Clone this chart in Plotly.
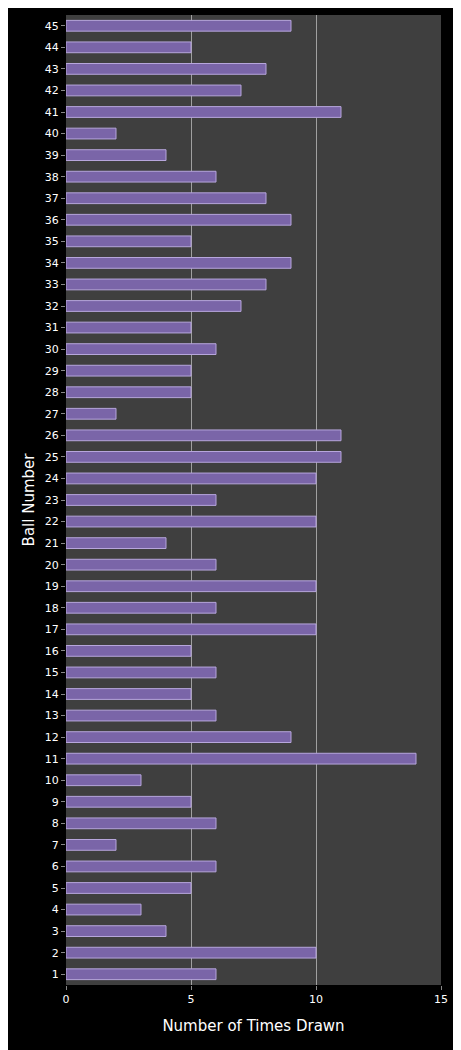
import plotly.graph_objects as go

balls = [str(i) for i in range(1, 46)]
times_drawn = [6, 10, 4, 3, 5, 6, 2, 6, 5, 3,
               14, 9, 6, 5, 6, 5, 10, 6, 10, 6,
               4, 10, 6, 10, 11, 11, 2, 5, 5, 6,
               5, 7, 8, 9, 5, 9, 8, 6, 4, 2,
               11, 7, 8, 5, 9]

fig = go.Figure(go.Bar(
    x=times_drawn, y=balls, orientation="h",
    marker=dict(color="#7a65a8", line=dict(color="#b7a6dc", width=1)),
))

fig.update_layout(
    width=461, height=1050,
    margin=dict(l=58, r=28, t=7, b=73),
    paper_bgcolor="black", plot_bgcolor="#3f3f3f",
    bargap=0.5, showlegend=False,
    font=dict(family="DejaVu Sans", color="white", size=11),
)
fig.update_xaxes(range=[0, 15], dtick=5, showgrid=True, gridcolor="#a0a0a0", gridwidth=1,
                 zeroline=False, ticks="outside", tickcolor="#888", ticklen=4,
                 title=dict(text="Number of Times Drawn", font=dict(size=15)))
fig.update_yaxes(type="category", categoryorder="array", categoryarray=balls,
                 ticks="outside", tickcolor="#888", ticklen=4,
                 title=dict(text="Ball Number", font=dict(size=15), standoff=6))

fig.write_html("out.html")
